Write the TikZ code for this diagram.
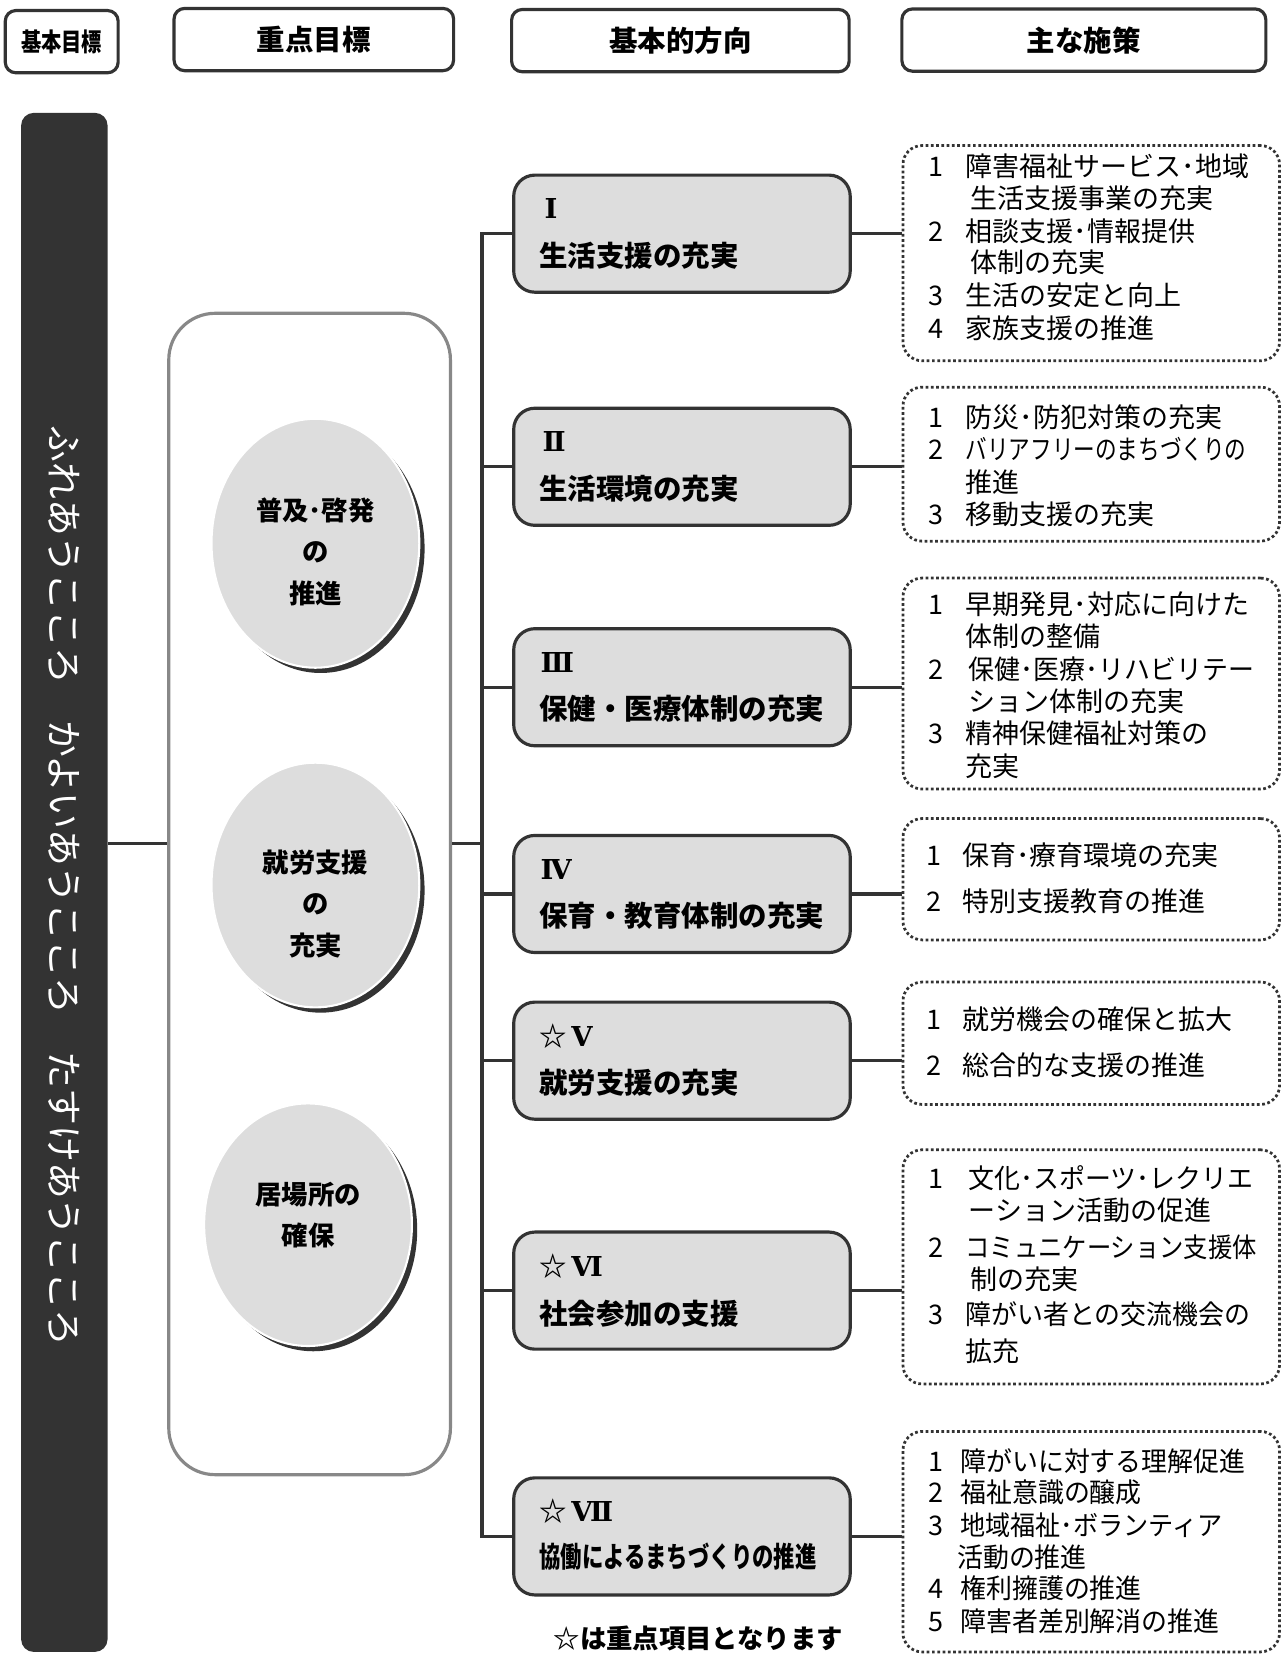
\documentclass[tikz,border=0pt]{standalone}
\usepackage{fontspec}
\setmainfont{Noto Sans CJK JP}
\newfontfamily\romfont{DejaVu Serif}
\usetikzlibrary{shapes.geometric}
\definecolor{dk}{HTML}{333333}
\definecolor{lg}{HTML}{DDDDDD}
\definecolor{md}{HTML}{888888}
\newcommand\pnum[2][17.5pt]{\makebox[#1][l]{#2}}
\newcommand\hsq[2]{\scalebox{#1}[1]{#2}}
\tikzset{
  hdr/.style={draw=dk, line width=1.5pt, rounded corners=5pt, fill=white, inner sep=0pt, minimum height=29.5pt, font=\bfseries\fontsize{13.5}{16}\selectfont},
  dirbox/.style={draw=dk, line width=1.5pt, rounded corners=10pt, fill=lg, minimum width=159.5pt, minimum height=55.5pt, inner sep=0pt},
  polbox/.style={draw=dk, line width=1.3pt, dash pattern=on 1.3pt off 1.2pt, rounded corners=9pt, inner sep=0pt, minimum width=178.5pt},
  conn/.style={draw=dk, line width=1.5pt},
  ptext/.style={anchor=west, inner sep=0pt, font=\fontsize{12.8}{15}\selectfont},
  dnum/.style={anchor=west, inner sep=0pt, font=\romfont\bfseries\fontsize{13}{15}\selectfont},
  dtext/.style={anchor=west, inner sep=0pt, font=\bfseries\fontsize{13.5}{16}\selectfont},
  ell/.style={ellipse, fill=lg, draw=white, line width=1pt, minimum width=98.5pt, inner sep=0pt},
  ellsh/.style={ellipse, fill=dk, minimum width=98.5pt, inner sep=0pt},
  etext/.style={align=center, inner sep=0pt, font=\bfseries\fontsize{12.5}{19.7}\selectfont},
}
\begin{document}
\begin{tikzpicture}[x=0.5pt,y=-0.5pt]
\useasboundingbox (0,0) rectangle (1215,1568);
% headers
\node[hdr, minimum width=53.5pt] (h1) at (58.5,39.5) {\hsq{0.8}{\fontsize{12}{14}\selectfont 基本目標}};
\node[hdr, minimum width=132.5pt] (h2) at (297.5,37.5) {重点目標};
\node[hdr, minimum width=160pt] (h3) at (645,38.5) {基本的方向};
\node[hdr, minimum width=172.5pt] (h4) at (1027.5,38) {主な施策};
% bar
\node[fill=dk, rounded corners=6pt, minimum width=41pt, minimum height=729.5pt, inner sep=0pt] (bar) at (61,836.5) {};
\node[rotate=-90, text=white, inner sep=0pt, font=\fontsize{17.5}{20}\selectfont] (bartext) at (61,840) {ふれあうこころ　かよいあうこころ　たすけあうこころ};
% main box
\node[draw=md, line width=1.5pt, rounded corners=22pt, minimum width=133.5pt, minimum height=550.5pt, inner sep=0pt] (mainbox) at (293.5,847.5) {};
% ellipses
\node[ellsh, minimum height=118pt] (e1s) at (304,520) {};
\node[ell, minimum height=118pt] (e1) at (299,515) {};
\node[etext] (e1t) at (299,523) {普及･啓発\\の\\推進};
\node[ellsh, minimum height=116pt] (e2s) at (304,844) {};
\node[ell, minimum height=116pt] (e2) at (299,839) {};
\node[etext] (e2t) at (299,857) {就労支援\\の\\充実};
\node[ellsh, minimum height=115pt] (e3s) at (297,1166) {};
\node[ell, minimum height=115pt] (e3) at (292,1161) {};
\node[etext] (e3t) at (292,1152) {居場所の\\確保};
% trunk coordinates
\coordinate (tk) at (457,0);
\coordinate (midrow) at (0,800);
% direction boxes
\node[dirbox] (d1) at (646.5,221.5) {};
\node[dirbox] (d2) at (646.5,442.5) {};
\node[dirbox] (d3) at (646.5,651.5) {};
\node[dirbox] (d4) at (646.5,847.5) {};
\node[dirbox] (d5) at (646.5,1005.5) {};
\node[dirbox] (d6) at (646.5,1223.5) {};
\node[dirbox] (d7) at (646.5,1456.5) {};
\node[dnum] (d1a) at (516,198) {Ⅰ};
\node[dtext] (d1b) at (511,242) {生活支援の充実};
\node[dnum] (d2a) at (514,419) {Ⅱ};
\node[dtext] (d2b) at (511,463) {生活環境の充実};
\node[dnum] (d3a) at (512,628) {Ⅲ};
\node[dtext] (d3b) at (511,672) {保健・医療体制の充実};
\node[dnum] (d4a) at (512,824) {Ⅳ};
\node[dtext] (d4b) at (511,868) {保育・教育体制の充実};
\node[dnum] (d5a) at (511,982) {\fontspec{Noto Sans CJK JP}☆\romfont\,Ⅴ};
\node[dtext] (d5b) at (511,1026) {就労支援の充実};
\node[dnum] (d6a) at (511,1200) {\fontspec{Noto Sans CJK JP}☆\romfont\,Ⅵ};
\node[dtext] (d6b) at (511,1245) {社会参加の支援};
\node[dnum] (d7a) at (511,1433) {\fontspec{Noto Sans CJK JP}☆\romfont\,Ⅶ};
\node[dtext] (d7b) at (511,1476) {\hsq{0.75}{協働によるまちづくりの推進}};
% policy boxes
\node[polbox, minimum height=102pt] (p1) at (1034.5,240) {};
\node[polbox, minimum height=73pt] (p2) at (1034.5,440) {};
\node[polbox, minimum height=100pt] (p3) at (1034.5,648) {};
\node[polbox, minimum height=57.5pt] (p4) at (1034.5,833.5) {};
\node[polbox, minimum height=58pt] (p5) at (1034.5,989) {};
\node[polbox, minimum height=111pt] (p6) at (1034.5,1201) {};
\node[polbox, minimum height=104.5pt] (p7) at (1034.5,1461.5) {};
% policy texts
\node[ptext] (p1a) at (880,158) {\pnum{1}障害福祉サービス･地域};
\node[ptext] (p1b) at (920,188) {生活支援事業の充実};
\node[ptext] (p1c) at (880,219) {\pnum{2}相談支援･情報提供};
\node[ptext] (p1d) at (920,249) {体制の充実};
\node[ptext] (p1e) at (880,280) {\pnum{3}生活の安定と向上};
\node[ptext] (p1f) at (880,311) {\pnum{4}家族支援の推進};
\node[ptext] (p2a) at (880,396) {\pnum{1}防災･防犯対策の充実};
\node[ptext] (p2b) at (880,426) {\pnum{2}\hsq{0.8}{バリアフリーのまちづくりの}};
\node[ptext] (p2c) at (915,457) {推進};
\node[ptext] (p2d) at (880,488) {\pnum{3}移動支援の充実};
\node[ptext] (p3a) at (880,573) {\pnum{1}早期発見･対応に向けた};
\node[ptext] (p3b) at (915,603) {体制の整備};
\node[ptext] (p3c) at (880,634) {\pnum[19pt]{2}\hsq{0.96}{保健･医療･リハビリテー}};
\node[ptext] (p3d) at (918,665) {ション体制の充実};
\node[ptext] (p3e) at (880,695) {\pnum{3}精神保健福祉対策の};
\node[ptext] (p3f) at (915,726) {充実};
\node[ptext] (p4a) at (878,811) {\pnum[17pt]{1}保育･療育環境の充実};
\node[ptext] (p4b) at (878,854) {\pnum[17pt]{2}特別支援教育の推進};
\node[ptext] (p5a) at (878,966) {\pnum[17pt]{1}就労機会の確保と拡大};
\node[ptext] (p5b) at (878,1010) {\pnum[17pt]{2}総合的な支援の推進};
\node[ptext] (p6a) at (880,1117) {\pnum[19pt]{1}\hsq{0.96}{文化･スポーツ･レクリエ}};
\node[ptext] (p6b) at (918,1147) {ーション活動の促進};
\node[ptext] (p6c) at (880,1182) {\pnum{2}\hsq{0.9}{コミュニケーション支援体}};
\node[ptext] (p6d) at (920,1213) {制の充実};
\node[ptext] (p6e) at (880,1246) {\pnum{3}\hsq{0.96}{障がい者との交流機会の}};
\node[ptext] (p6f) at (915,1281) {拡充};
\node[ptext] (p7a) at (880,1385) {\pnum[15pt]{1}\hsq{0.96}{障がいに対する理解促進}};
\node[ptext] (p7b) at (880,1415) {\pnum[15pt]{2}\hsq{0.96}{福祉意識の醸成}};
\node[ptext] (p7c) at (880,1446) {\pnum[15pt]{3}\hsq{0.93}{地域福祉･ボランティア}};
\node[ptext] (p7d) at (907,1476) {\hsq{0.96}{活動の推進}};
\node[ptext] (p7e) at (880,1506) {\pnum[15pt]{4}\hsq{0.96}{権利擁護の推進}};
\node[ptext] (p7f) at (880,1537) {\pnum[15pt]{5}\hsq{0.96}{障害者差別解消の推進}};
% footnote
\node[inner sep=0pt, font=\bfseries\fontsize{12.5}{15}\selectfont] (note) at (662,1553) {☆は重点項目となります};
% connectors
\draw[conn] (bar.east |- midrow) -- (mainbox.west |- midrow);
\draw[conn] (mainbox.east |- midrow) -- (tk |- midrow);
\draw[conn] (d1.west) -- (d1.west -| tk) -- (d7.west -| tk) -- (d7.west);
\foreach \d in {d2,d3,d4,d5,d6} \draw[conn] (\d.west -| tk) -- (\d.west);
\foreach \d/\p in {d1/p1,d2/p2,d3/p3,d4/p4,d5/p5,d6/p6,d7/p7} \draw[conn] (\d.east) -- (\d.east -| \p.west);
\end{tikzpicture}
\end{document}
